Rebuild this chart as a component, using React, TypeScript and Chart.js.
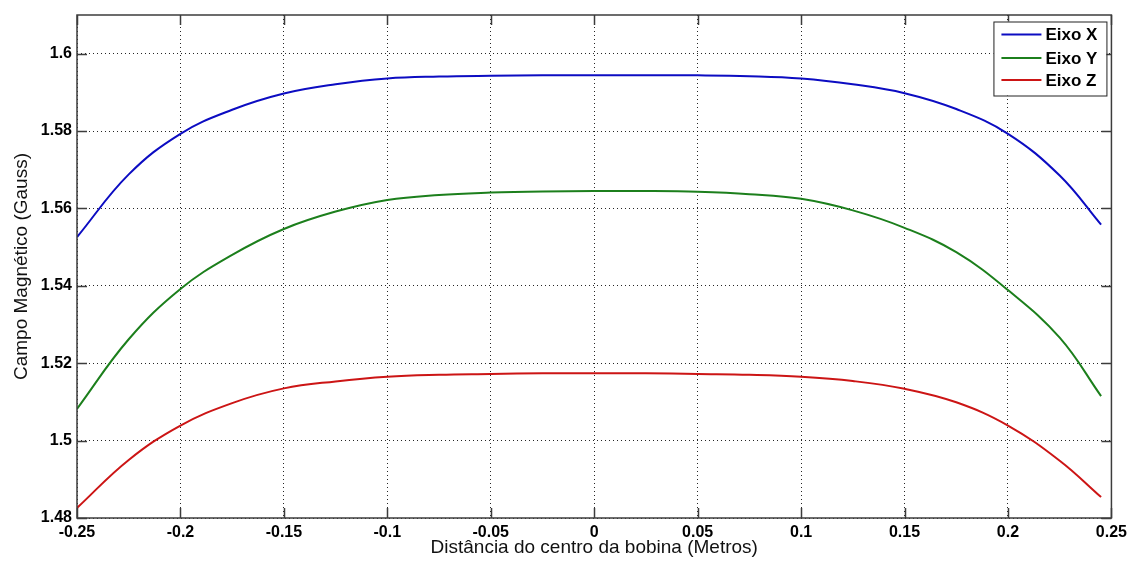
import React, { useEffect, useRef } from "react";
import { Chart, registerables } from "chart.js";

Chart.register(...registerables);

const xValues = [-0.25, -0.225, -0.2, -0.175, -0.15, -0.125, -0.1, -0.075, -0.05, -0.025, 0, 0.025, 0.05, 0.075, 0.1, 0.125, 0.15, 0.175, 0.2, 0.225, 0.245];
const eixoX = [1.5526, 1.5688, 1.5793, 1.5855, 1.5897, 1.5921, 1.5936, 1.5941, 1.5943, 1.5944, 1.5944, 1.5944, 1.5944, 1.5942, 1.5936, 1.5921, 1.5898, 1.5857, 1.5793, 1.5685, 1.5558];
const eixoY = [1.5082, 1.5262, 1.5392, 1.548, 1.5547, 1.5592, 1.5622, 1.5635, 1.5641, 1.5644, 1.5645, 1.5645, 1.5643, 1.5637, 1.5625, 1.5595, 1.555, 1.5487, 1.5389, 1.5266, 1.5115];
const eixoZ = [1.4826, 1.495, 1.5039, 1.5097, 1.5135, 1.5153, 1.5165, 1.517, 1.5172, 1.5174, 1.5174, 1.5174, 1.5172, 1.517, 1.5165, 1.5154, 1.5134, 1.5099, 1.5039, 1.4948, 1.4854];

const xTicks = [-0.25, -0.2, -0.15, -0.1, -0.05, 0, 0.05, 0.1, 0.15, 0.2, 0.25];
const yTicks = [1.48, 1.5, 1.52, 1.54, 1.56, 1.58, 1.6];

const seriesNames = ["Eixo X", "Eixo Y", "Eixo Z"];
const seriesValues = [eixoX, eixoY, eixoZ];
const seriesColors = ["#0c0cc2", "#1c7f1c", "#cc1515"];

const xTitle = "Distância do centro da bobina (Metros)";
const yTitle = "Campo Magnético (Gauss)";

const FONT = "'Liberation Sans', Arial, sans-serif";

const fmt = (v: number) => String(parseFloat(Number(v).toFixed(3)));

const framePlugin = {
  id: "frameAndLegend",
  afterDatasetsDraw(chart: any) {
    const { ctx, chartArea, scales } = chart;
    const { left, right, top, bottom } = chartArea;
    const xs = scales.x;
    const ys = scales.y;
    ctx.save();
    ctx.strokeStyle = "#3c3c3c";
    ctx.lineWidth = 1.5;
    ctx.strokeRect(left, top, right - left, bottom - top);
    ctx.beginPath();
    const tl = 10;
    xTicks.forEach((v) => {
      const px = Math.round(xs.getPixelForValue(v)) + 0.5;
      ctx.moveTo(px, bottom);
      ctx.lineTo(px, bottom - tl);
      ctx.moveTo(px, top);
      ctx.lineTo(px, top + tl);
    });
    yTicks.forEach((v) => {
      const py = Math.round(ys.getPixelForValue(v)) + 0.5;
      ctx.moveTo(left, py);
      ctx.lineTo(left + tl, py);
      ctx.moveTo(right, py);
      ctx.lineTo(right - tl, py);
    });
    ctx.stroke();

    // legend box
    const bx = right - 118;
    const by = top + 6.5;
    const bw = 113;
    const bh = 74;
    ctx.fillStyle = "#ffffff";
    ctx.fillRect(bx, by, bw, bh);
    ctx.strokeStyle = "#222222";
    ctx.lineWidth = 1;
    ctx.strokeRect(bx + 0.5, by + 0.5, bw, bh);
    const rows = [13, 36.5, 58.5];
    ctx.font = `bold 17px ${FONT}`;
    ctx.textBaseline = "middle";
    ctx.textAlign = "left";
    seriesNames.forEach((name, i) => {
      const yy = by + rows[i];
      ctx.strokeStyle = seriesColors[i];
      ctx.lineWidth = 2;
      ctx.beginPath();
      ctx.moveTo(bx + 8, yy);
      ctx.lineTo(bx + 48, yy);
      ctx.stroke();
      ctx.fillStyle = "#000000";
      ctx.fillText(name, bx + 52, yy + 1);
    });
    ctx.restore();
  },
};

export default function App() {
  const canvasRef = useRef<HTMLCanvasElement | null>(null);

  useEffect(() => {
    const canvas = canvasRef.current;
    if (!canvas) return;
    const chart = new Chart(canvas, {
      type: "line",
      data: {
        datasets: seriesNames.map((name, i) => ({
          label: name,
          data: xValues.map((x, j) => ({ x, y: seriesValues[i][j] })),
          borderColor: seriesColors[i],
          backgroundColor: seriesColors[i],
          borderWidth: 2,
          pointRadius: 0,
          fill: false,
          tension: 0.4,
        })),
      },
      options: {
        animation: false,
        responsive: true,
        maintainAspectRatio: false,
        layout: { padding: { top: 15, right: 20, left: 0, bottom: 0 } },
        plugins: {
          legend: { display: false },
          tooltip: { enabled: false },
        },
        scales: {
          x: {
            type: "linear",
            min: -0.25,
            max: 0.25,
            afterBuildTicks: (scale: any) => {
              scale.ticks = xTicks.map((v) => ({ value: v }));
            },
            afterFit: (scale: any) => {
              scale.height = 47;
            },
            grid: {
              color: "rgba(0,0,0,0.85)",
              lineWidth: 1,
              drawTicks: false,
            },
            border: { display: false, dash: [1, 3] },
            ticks: {
              color: "#000",
              padding: 5,
              maxRotation: 0,
              autoSkip: false,
              font: { family: FONT, size: 16, weight: "bold" },
              callback: (v: any) => fmt(v),
            },
            title: {
              display: true,
              text: xTitle,
              color: "#111",
              font: { family: FONT, size: 19 },
              padding: { top: 0, bottom: 6 },
            },
          },
          y: {
            type: "linear",
            min: 1.48,
            max: 1.61,
            afterBuildTicks: (scale: any) => {
              scale.ticks = yTicks.map((v) => ({ value: v }));
            },
            afterFit: (scale: any) => {
              scale.width = 77;
            },
            grid: {
              color: "rgba(0,0,0,0.85)",
              lineWidth: 1,
              drawTicks: false,
            },
            border: { display: false, dash: [1, 3] },
            ticks: {
              color: "#000",
              padding: 5,
              autoSkip: false,
              font: { family: FONT, size: 16, weight: "bold" },
              callback: (v: any) => fmt(v),
            },
            title: {
              display: true,
              text: yTitle,
              color: "#111",
              font: { family: FONT, size: 19 },
              padding: { top: 10, bottom: 0 },
            },
          },
        },
      },
      plugins: [framePlugin],
    });
    return () => chart.destroy();
  }, []);

  return (
    <div style={{ position: "absolute", left: 0, top: 0, width: 1132, height: 565, background: "#fff" }}>
      <canvas ref={canvasRef} />
    </div>
  );
}
